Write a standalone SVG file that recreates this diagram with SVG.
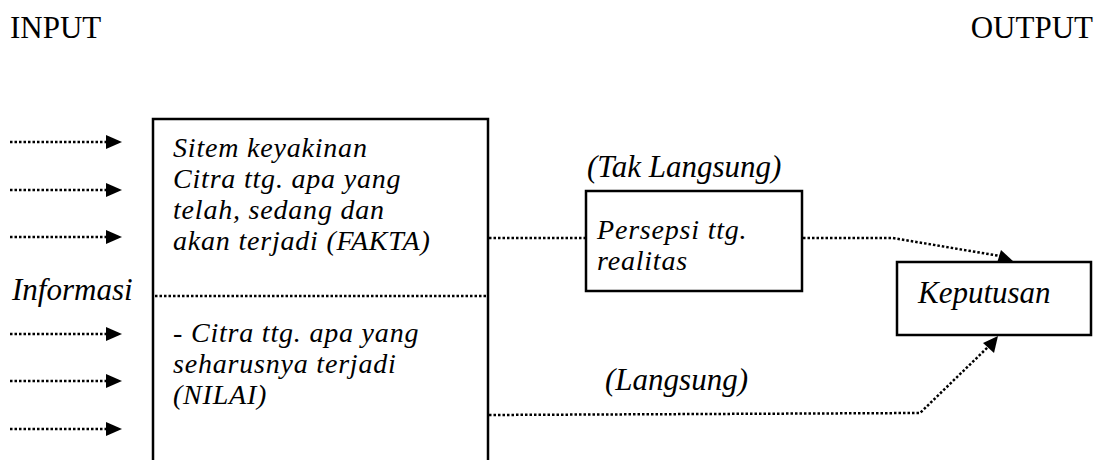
<svg xmlns="http://www.w3.org/2000/svg" width="1102" height="460" viewBox="0 0 1102 460">
<defs>
<style>
.t{font-family:"Liberation Serif","Times New Roman",serif;font-size:31px;fill:#000}
.i{font-style:italic}
.m{font-size:28px;letter-spacing:0.8px}
.box{fill:#fff;stroke:#000;stroke-width:2.5}
.dot{fill:none;stroke:#000;stroke-width:2.5;stroke-dasharray:2.5 2}
.head{fill:#000}
</style>
</defs>
<rect width="1102" height="460" fill="#fff"/>
<text class="t" x="10" y="38">INPUT</text>
<text class="t" x="1093" y="38" text-anchor="end">OUTPUT</text>
<text class="t i" x="12" y="300">Informasi</text>
<g id="main">
<rect class="box" x="153" y="119" width="335" height="360"/>
<line class="dot" x1="155" y1="296" x2="487" y2="296"/>
<text class="t i m"><tspan x="173" y="157">Sitem keyakinan</tspan><tspan x="173" y="188">Citra ttg. apa yang</tspan><tspan x="173" y="219">telah, sedang dan</tspan><tspan x="173" y="250">akan terjadi (FAKTA)</tspan></text>
<text class="t i m"><tspan x="173" y="342">- Citra ttg. apa yang</tspan><tspan x="173" y="373">seharusnya terjadi</tspan><tspan x="173" y="404">(NILAI)</tspan></text>
</g>
<g id="persepsi">
<rect class="box" x="586" y="191" width="216" height="100"/>
<text class="t i m"><tspan x="597" y="239">Persepsi ttg.</tspan><tspan x="597" y="270">realitas</tspan></text>
</g>
<g id="keputusan">
<rect class="box" x="897" y="262" width="194" height="73"/>
<text class="t i" x="918" y="303">Keputusan</text>
</g>
<g id="connectors">
<g id="inputs">
<line class="dot" x1="10" y1="142" x2="108" y2="142"/><polygon class="head" points="106,135 122,142 106,149"/>
<line class="dot" x1="10" y1="190" x2="108" y2="190"/><polygon class="head" points="106,183 122,190 106,197"/>
<line class="dot" x1="10" y1="237" x2="108" y2="237"/><polygon class="head" points="106,230 122,237 106,244"/>
<line class="dot" x1="10" y1="334" x2="108" y2="334"/><polygon class="head" points="106,327 122,334 106,341"/>
<line class="dot" x1="10" y1="381" x2="108" y2="381"/><polygon class="head" points="106,374 122,381 106,388"/>
<line class="dot" x1="10" y1="429" x2="108" y2="429"/><polygon class="head" points="106,422 122,429 106,436"/>
</g>
<line class="dot" x1="489" y1="238" x2="585" y2="238"/>
<polyline class="dot" points="803,238 893,238 1000,256"/>
<polygon class="head" points="1014,262 997,263 1001,250"/>
<polyline class="dot" points="489,415 920,413 988,347"/>
<polygon class="head" points="998,336 994,353 983,343"/>
</g>
<text class="t i" x="587" y="177">(Tak Langsung)</text>
<text class="t i" x="605" y="390">(Langsung)</text>
</svg>
